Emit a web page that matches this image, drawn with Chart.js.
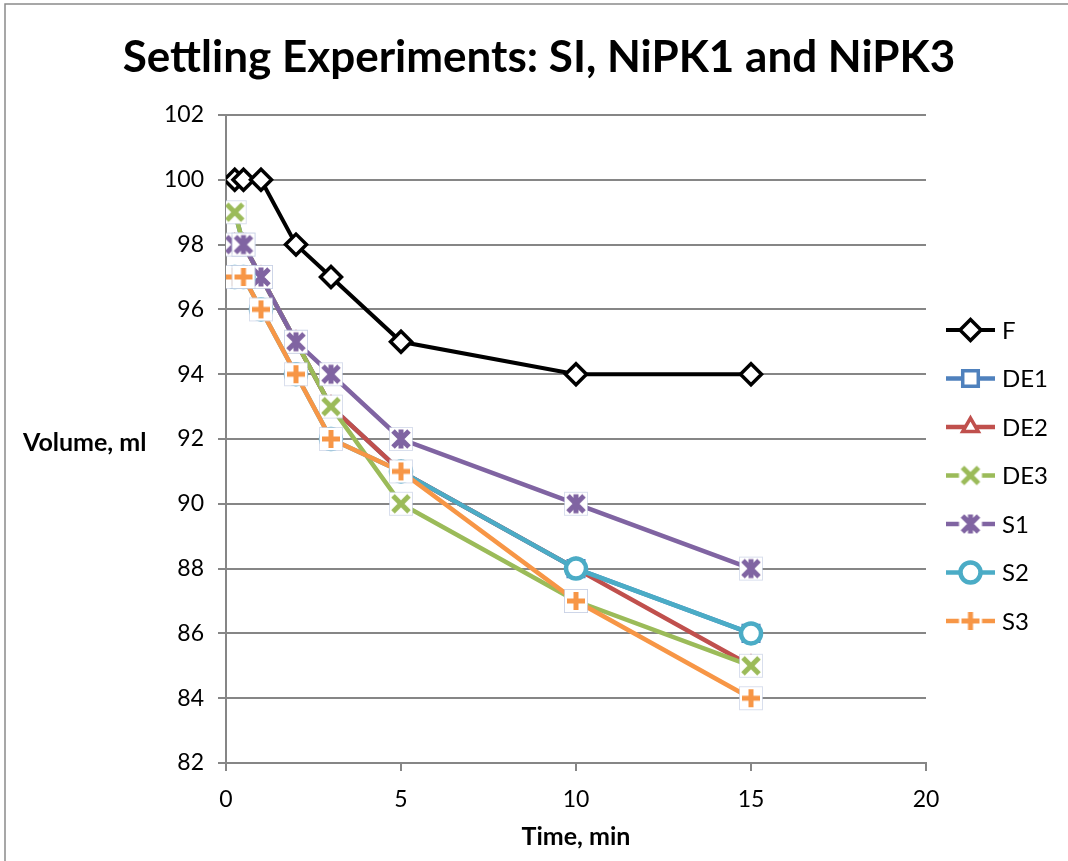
<!DOCTYPE html>
<html>
<head>
<meta charset="utf-8">
<script src="https://cdn.jsdelivr.net/npm/chart.js@4.4.1/dist/chart.umd.min.js"></script>
<style>
  html, body { margin: 0; padding: 0; background: #fff; }
  #wrap { width: 1068px; height: 861px; position: relative; }
</style>
</head>
<body>
<div id="wrap"><canvas id="settlingChart" width="1068" height="861"></canvas></div>
<script>
// time points (min) and settled volume (ml) for each sample
const times = [0.25, 0.5, 1, 2, 3, 5, 10, 15];
const volF   = [100, 100, 100, 98, 97, 95, 94, 94];
const volDE1 = [99, 98, 97, 95, 93, 91, 88, 86];
const volDE2 = [98, 98, 97, 95, 93, 91, 88, 85];
const volDE3 = [99, 98, 97, 95, 93, 90, 87, 85];
const volS1  = [98, 98, 97, 95, 94, 92, 90, 88];
const volS2  = [97, 97, 96, 94, 92, 91, 88, 86];
const volS3  = [97, 97, 96, 94, 92, 91, 87, 84];

const yTicks = [82, 84, 86, 88, 90, 92, 94, 96, 98, 100, 102];
const xTicks = [0, 5, 10, 15, 20];

const FONT = "Lato, 'Open Sans', sans-serif";
const GRID = "#868686";

/* line-type markers (x, +, star) sit on a white square, like Excel draws them */
const glyphMarker = (color, kind, halo) => {
  const c = document.createElement("canvas");
  c.width = 26; c.height = 26;
  const g = c.getContext("2d");
  g.fillStyle = "#fff";
  g.fillRect(1.5, 1.5, 23, 23);
  if (halo) {
    g.strokeStyle = "rgba(170,185,215,0.45)";
    g.lineWidth = 1;
    g.strokeRect(1.5, 1.5, 23, 23);
  }
  g.strokeStyle = color;
  g.lineWidth = 5;
  g.beginPath();
  if (kind === "x" || kind === "star") {
    g.moveTo(5, 5); g.lineTo(21, 21);
    g.moveTo(21, 5); g.lineTo(5, 21);
  }
  if (kind === "star") {
    g.moveTo(13, 3.5); g.lineTo(13, 22.5);
  }
  if (kind === "plus") {
    g.moveTo(13, 4); g.lineTo(13, 22);
    g.moveTo(4, 13); g.lineTo(22, 13);
  }
  g.stroke();
  return c;
};

const toPoints = (vals) => vals.map((v, i) => ({ x: times[i], y: v }));

const series = [
  { label: "F",   data: volF,   color: "#000000", style: "rectRot",  radius: 10.5, bw: 3.5, lw: 4 },
  { label: "DE1", data: volDE1, color: "#4F81BD", style: "rect",     radius: 11, bw: 3.5, lw: 4.5 },
  { label: "DE2", data: volDE2, color: "#C0504D", style: "triangle", radius: 9,  bw: 3.5, lw: 4.5 },
  { label: "DE3", data: volDE3, color: "#9BBB59", style: glyphMarker("#9BBB59", "x", true),    legend: glyphMarker("#9BBB59", "x", false),    radius: 13, bw: 0, lw: 4.5 },
  { label: "S1",  data: volS1,  color: "#8064A2", style: glyphMarker("#8064A2", "star", true), legend: glyphMarker("#8064A2", "star", false), radius: 13, bw: 0, lw: 4.5 },
  { label: "S2",  data: volS2,  color: "#4BACC6", style: "circle",   radius: 10, bw: 4.5, lw: 4.5 },
  { label: "S3",  data: volS3,  color: "#F79646", style: glyphMarker("#F79646", "plus", true), legend: glyphMarker("#F79646", "plus", false), radius: 13, bw: 0, lw: 4.5 }
];

/* titles and the line+marker legend */
const decorations = {
  id: "decorations",
  afterDraw(chart) {
    const { ctx, chartArea } = chart;
    ctx.save();

    // frame
    ctx.strokeStyle = "#8a8a8a";
    ctx.lineWidth = 1.5;
    ctx.beginPath();
    ctx.moveTo(5, 861); ctx.lineTo(5, 4); ctx.lineTo(1068, 4);
    ctx.stroke();

    ctx.fillStyle = "#000";
    ctx.textAlign = "center";
    ctx.textBaseline = "middle";
    ctx.font = "bold 44px " + FONT;
    ctx.fillText("Settling Experiments: SI, NiPK1 and NiPK3", 539, 58);

    ctx.font = "bold 25px " + FONT;
    ctx.textAlign = "left";
    ctx.fillText("Volume, ml", 23, 443);
    ctx.textAlign = "center";
    ctx.fillText("Time, min", (chartArea.left + chartArea.right) / 2, 837);

    // legend
    ctx.font = "24px " + FONT;
    ctx.textAlign = "left";
    series.forEach((s, i) => {
      const y = 330 + i * 48.5;
      ctx.strokeStyle = s.color;
      ctx.lineWidth = s.lw;
      ctx.beginPath();
      ctx.moveTo(946, y); ctx.lineTo(995, y);
      ctx.stroke();
      ctx.fillStyle = "#fff";
      ctx.strokeStyle = s.color;
      ctx.lineWidth = s.bw;
      Chart.helpers.drawPoint(ctx, {
        pointStyle: s.legend || s.style, radius: s.radius, rotation: 0, borderWidth: s.bw
      }, 970.5, y);
      ctx.fillStyle = "#000";
      ctx.fillText(s.label, 1002, y + 1);
    });
    ctx.restore();
  }
};

const ctx = document.getElementById("settlingChart").getContext("2d");

new Chart(ctx, {
  type: "line",
  data: {
    datasets: series.map((s, i) => ({
      label: s.label,
      data: toPoints(s.data),
      borderColor: s.color,
      backgroundColor: "#ffffff",
      borderWidth: s.lw,
      pointStyle: s.style,
      pointRadius: s.radius,
      pointBorderWidth: s.bw,
      pointBackgroundColor: "#ffffff",
      pointBorderColor: s.color,
      tension: 0,
      fill: false,
      order: series.length - i
    }))
  },
  options: {
    responsive: false,
    animation: false,
    layout: { padding: { top: 115, right: 142, left: 0, bottom: 0 } },
    plugins: {
      legend: { display: false },
      title: { display: false },
      tooltip: { enabled: false }
    },
    scales: {
      x: {
        type: "linear",
        min: 0,
        max: 20,
        afterFit: (scale) => { scale.height = 98; },
        afterBuildTicks: (scale) => { scale.ticks = xTicks.map(v => ({ value: v })); },
        grid: { drawOnChartArea: false, drawTicks: true, tickLength: 8, color: GRID, lineWidth: 2 },
        border: { color: GRID, width: 2 },
        ticks: { padding: 15, color: "#000", font: { family: FONT, size: 23 } }
      },
      y: {
        min: 82,
        max: 102,
        afterFit: (scale) => { scale.width = 226; },
        afterBuildTicks: (scale) => { scale.ticks = yTicks.map(v => ({ value: v })); },
        grid: { drawOnChartArea: true, drawTicks: true, tickLength: 8, color: GRID, lineWidth: 2 },
        border: { color: GRID, width: 2 },
        ticks: { padding: 14, color: "#000", font: { family: FONT, size: 23 } }
      }
    }
  },
  plugins: [decorations]
});
</script>
</body>
</html>
